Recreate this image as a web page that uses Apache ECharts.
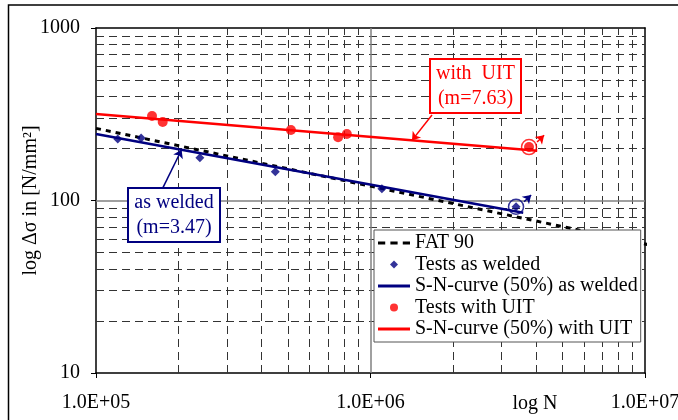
<!DOCTYPE html>
<html><head><meta charset="utf-8">
<script src="https://cdn.jsdelivr.net/npm/echarts@6/dist/echarts.min.js"></script>
<style>html,body{margin:0;padding:0;background:#fff}#c{width:678px;height:420px}</style>
</head><body><div id="c"></div>
<script>
// ---- data ----
const fatN = [1e5, 1.02e7];
const fatS = [262, 55.6];
const weldedN = [1.20e5, 1.46e5, 2.39e5, 4.50e5, 1.10e6, 3.39e6];
const weldedS = [227, 230, 177, 147, 117, 92];
const uitN = [1.60e5, 1.75e5, 5.13e5, 7.62e5, 8.20e5, 3.78e6];
const uitS = [309, 285, 256, 233, 243, 204];
const weldedCurveN = [1e5, 3.6e6];
const weldedCurveS = [243, 85];
const uitCurveN = [1e5, 4.05e6];
const uitCurveS = [317, 194];
const xMinorGrid = [2e5,3e5,4e5,5e5,6e5,7e5,8e5,9e5,2e6,3e6,4e6,5e6,6e6,7e6,8e6,9e6];
const yMinorGrid = [20,30,40,50,60,70,80,90,200,300,400,500,600,700,800,900];
const xMajorGrid = [1e6];
const yMajorGrid = [100];
const xMin = 1e5, xMax = 1e7, yMin = 10, yMax = 1000;
// annotation anchors (arrow tails at boxes, arrow heads on curves)
const weldedArrowFrom = [1.75e5, 118];
const weldedArrowToN = 2.05e5;
const uitArrowFrom = [1.675e6, 313];
const uitArrowToN = 1.416e6;

const FONT = 'Liberation Serif';
const RED = '#ff0000', NAVY = '#000080';

function pairs(a, b) { return a.map((v, i) => [v, b[i]]); }
function curveAt(Ns, Ss, N) {
  const t = (Math.log10(N) - Math.log10(Ns[0])) / (Math.log10(Ns[1]) - Math.log10(Ns[0]));
  return Math.pow(10, Math.log10(Ss[0]) + t * (Math.log10(Ss[1]) - Math.log10(Ss[0])));
}
function sci(v) {
  const e = Math.round(Math.log10(v));
  return '1.0E+' + String(e).padStart(2, '0');
}

const minorLine = { type: [8, 5], color: '#333', width: 1 };
const gridLines = [];
xMinorGrid.forEach(v => gridLines.push({ xAxis: v, lineStyle: minorLine }));
yMinorGrid.forEach(v => gridLines.push({ yAxis: v, lineStyle: minorLine }));
xMajorGrid.forEach(v => gridLines.push({ xAxis: v, lineStyle: { type: 'solid', color: '#808080', width: 1.5 } }));
yMajorGrid.forEach(v => gridLines.push({ yAxis: v, lineStyle: { type: 'solid', color: '#808080', width: 1.5 } }));

const lastW = weldedN.length - 1, lastU = uitN.length - 1;
const runouts = [[weldedN[lastW], weldedS[lastW], NAVY], [uitN[lastU], uitS[lastU], RED]];
const arrowData = [
  [{ coord: weldedArrowFrom, lineStyle: { color: NAVY } }, { coord: [weldedArrowToN, curveAt(weldedCurveN, weldedCurveS, weldedArrowToN)] }],
  [{ coord: uitArrowFrom, lineStyle: { color: RED } }, { coord: [uitArrowToN, curveAt(uitCurveN, uitCurveS, uitArrowToN)] }]
];
runouts.forEach(r => {
  arrowData.push([{ coord: [r[0] * 1.07, r[1] * 1.07], lineStyle: { color: r[2] } }, { coord: [r[0] * 1.135, r[1] * 1.17] }]);
});

const ICON_DASH = 'path://M0,0H7V3H0ZM12,0H19V3H12ZM24,0H31V3H24Z';
const ICON_LINE = 'path://M0,0H32V3H0Z';
const ICON_DIAMOND = 'path://M4,0L8,4L4,8L0,4Z';

const chart = echarts.init(document.getElementById('c'));
chart.setOption({
  animation: false,
  backgroundColor: '#fff',
  textStyle: { fontFamily: FONT },
  grid: { left: 96, top: 28, right: 33, bottom: 47, containLabel: false, outerBoundsMode: 'none' },
  xAxis: [{
    type: 'log', logBase: 10, min: xMin, max: xMax,
    axisLine: { lineStyle: { color: '#000', width: 1.5 } },
    axisTick: { show: true, length: 5, lineStyle: { color: '#000' } },
    axisLabel: { formatter: sci, color: '#000', fontSize: 20, fontFamily: FONT, margin: 20 },
    splitLine: { show: false }, minorTick: { show: false }
  }, {
    type: 'log', logBase: 10, min: xMin, max: xMax, position: 'top',
    axisLine: { lineStyle: { color: '#000', width: 1.5 } },
    axisTick: { show: false }, axisLabel: { show: false }, splitLine: { show: false }
  }],
  yAxis: [{
    type: 'log', logBase: 10, min: yMin, max: yMax,
    name: 'log Δσ in [N/mm²]', nameLocation: 'middle', nameGap: 55, nameMoveOverlap: false,
    nameTextStyle: { color: '#000', fontSize: 20, fontFamily: FONT },
    axisLine: { lineStyle: { color: '#000', width: 1.5 } },
    axisTick: { show: true, length: 5, lineStyle: { color: '#000' } },
    axisLabel: { color: '#000', fontSize: 20, fontFamily: FONT, margin: 16, formatter: v => String(Math.round(v)) },
    splitLine: { show: false }
  }, {
    type: 'log', logBase: 10, min: yMin, max: yMax, position: 'right',
    axisLine: { lineStyle: { color: '#000', width: 1.5 } },
    axisTick: { show: false }, axisLabel: { show: false }, splitLine: { show: false }
  }],
  legend: {
    orient: 'vertical', left: 374, top: 230, z: 50,
    data: [
      { name: 'FAT 90', icon: ICON_DASH },
      { name: 'Tests as welded', icon: ICON_DIAMOND },
      { name: 'S-N-curve (50%) as welded', icon: ICON_LINE },
      { name: 'Tests with UIT', icon: 'circle' },
      { name: 'S-N-curve (50%) with UIT', icon: ICON_LINE }
    ],
    symbolKeepAspect: true,
    backgroundColor: '#fff', borderColor: '#555', borderWidth: 1, borderRadius: 0,
    padding: [3, 3, 3, 4], itemGap: 1.5, itemWidth: 32, itemHeight: 8,
    textStyle: { fontSize: 20, fontFamily: FONT, color: '#000', lineHeight: 20 },
    selectedMode: false
  },
  series: [
    { type: 'line', name: '_grid', data: [], silent: true, z: 1,
      markLine: { silent: true, z: 1, symbol: ['none', 'none'], label: { show: false }, animation: false, data: gridLines } },
    { type: 'line', name: 'FAT 90', data: pairs(fatN, fatS), symbol: 'none', clip: false, z: 3,
      lineStyle: { color: '#000', width: 3, type: [5, 5] }, itemStyle: { color: '#000' } },
    { type: 'line', name: 'S-N-curve (50%) as welded', data: pairs(weldedCurveN, weldedCurveS), symbol: 'none', z: 4,
      lineStyle: { color: NAVY, width: 2.5 }, itemStyle: { color: NAVY } },
    { type: 'scatter', name: 'Tests as welded', data: pairs(weldedN, weldedS), symbol: 'diamond', symbolSize: 9, z: 5,
      itemStyle: { color: NAVY } },
    { type: 'line', name: 'S-N-curve (50%) with UIT', data: pairs(uitCurveN, uitCurveS), symbol: 'none', z: 4,
      lineStyle: { color: RED, width: 2.5 }, itemStyle: { color: RED } },
    { type: 'scatter', name: 'Tests with UIT', data: pairs(uitN, uitS), symbol: 'circle', symbolSize: 10, z: 5,
      itemStyle: { color: RED } },
    { type: 'scatter', name: '_runout', z: 6, symbol: 'circle', symbolSize: 15, silent: true,
      data: runouts.map(r => ({ value: [r[0], r[1]], itemStyle: { color: 'rgba(0,0,0,0)', borderColor: r[2], borderWidth: 1.5 } })) },
    { type: 'line', name: '_arrows', data: [], silent: true, z: 7,
      markLine: { silent: true, z: 7, symbol: ['none', 'arrow'], symbolSize: 8, label: { show: false }, animation: false,
        lineStyle: { type: 'solid', width: 1.5 }, data: arrowData } }
  ],
  graphic: [
    { type: 'rect', z: 0, silent: true, shape: { x: 8.5, y: 5, width: 720, height: 440 },
      style: { fill: null, stroke: '#000', lineWidth: 1.5 } },
    { type: 'rect', z: 100, shape: { x: 430, y: 59, width: 91, height: 54 },
      style: { fill: '#fff', stroke: RED, lineWidth: 2 } },
    { type: 'text', z: 101, x: 475.5, y: 86,
      style: { text: 'with  UIT\n(m=7.63)', fill: RED, fontSize: 20, fontFamily: FONT, align: 'center', verticalAlign: 'middle', lineHeight: 25 } },
    { type: 'rect', z: 100, shape: { x: 128, y: 188, width: 92, height: 54 },
      style: { fill: '#fff', stroke: NAVY, lineWidth: 2 } },
    { type: 'text', z: 101, x: 174, y: 215,
      style: { text: 'as welded\n(m=3.47)', fill: NAVY, fontSize: 20, fontFamily: FONT, align: 'center', verticalAlign: 'middle', lineHeight: 25 } },
    { type: 'text', z: 101, x: 535, y: 404,
      style: { text: 'log N', fill: '#000', fontSize: 20, fontFamily: FONT, align: 'center', verticalAlign: 'middle' } }
  ]
});
</script>
</body></html>
